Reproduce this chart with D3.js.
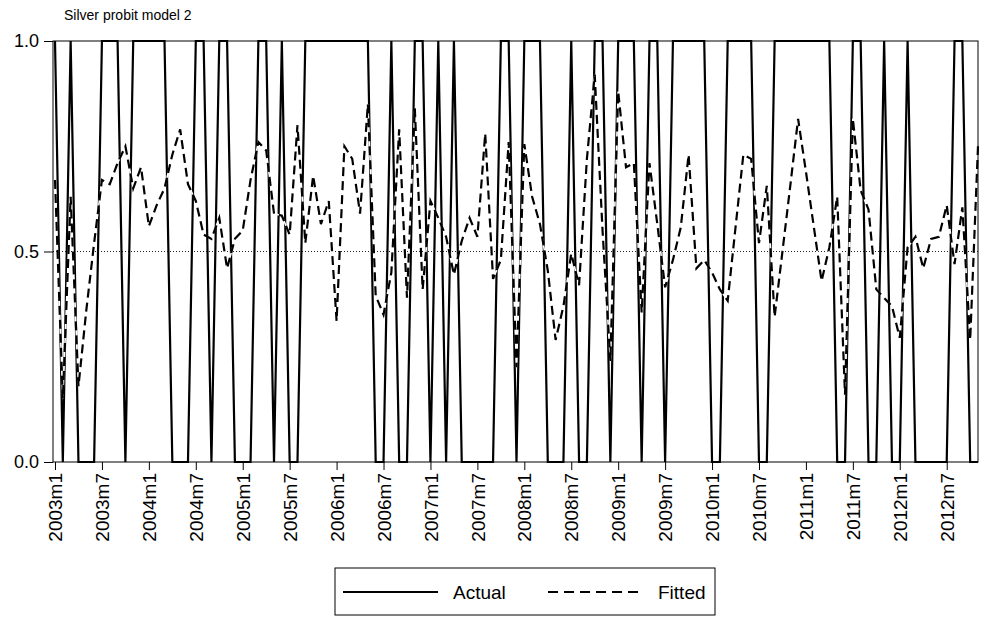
<!DOCTYPE html>
<html>
<head>
<meta charset="utf-8">
<script src="https://cdn.jsdelivr.net/npm/d3@7"></script>
<style>
  body { margin: 0; background: #fff; }
  svg { display: block; font-family: "Liberation Sans", Arial, sans-serif; }
</style>
</head>
<body>
<div id="chart"></div>
<script>
/* Silver probit model 2 - actual vs fitted */

// Data
const titleText = "Silver probit model 2";
const startYear = 2003;
const seriesNames = ["Actual", "Fitted"];
const yTicks = [0, 0.5, 1];
const tickLabels = ["2003m1", "2003m7", "2004m1", "2004m7", "2005m1", "2005m7", "2006m1", "2006m7",
  "2007m1", "2007m7", "2008m1", "2008m7", "2009m1", "2009m7", "2010m1", "2010m7",
  "2011m1", "2011m7", "2012m1", "2012m7"];

const actual = [
  1, 0, 1, 0, 0, 0, 1, 1, 1, 0,
  1, 1, 1, 1, 1, 0, 0, 0, 1, 1,
  0, 1, 1, 0, 0, 0, 1, 1, 0, 1,
  0, 0, 1, 1, 1, 1, 1, 1, 1, 1,
  1, 0, 0, 1, 0, 0, 1, 1, 0, 1,
  0, 1, 0, 0, 0, 0, 0, 1, 1, 0,
  1, 1, 1, 0, 0, 0, 1, 0, 0, 1,
  1, 0, 1, 1, 1, 0, 1, 1, 0, 1,
  1, 1, 1, 1, 0, 0, 1, 1, 1, 1,
  0, 0, 1, 1, 1, 1, 1, 1, 1, 1,
  0, 0, 1, 1, 0, 0, 1, 0, 0, 1,
  0, 0, 0, 0, 0, 1, 1, 0, 0
];

const fitted = [
  0.67, 0.15, 0.63, 0.18, 0.36, 0.52, 0.67, 0.66, 0.71, 0.75,
  0.65, 0.70, 0.56, 0.61, 0.65, 0.73, 0.79, 0.66, 0.62, 0.54,
  0.53, 0.58, 0.46, 0.53, 0.55, 0.67, 0.76, 0.74, 0.59, 0.585,
  0.54, 0.80, 0.52, 0.68, 0.565, 0.62, 0.335, 0.75, 0.72, 0.59,
  0.85, 0.395, 0.35, 0.45, 0.79, 0.39, 0.84, 0.41, 0.62, 0.58,
  0.535, 0.445, 0.525, 0.58, 0.535, 0.78, 0.435, 0.48, 0.76, 0.225,
  0.755, 0.63, 0.565, 0.455, 0.29, 0.37, 0.495, 0.42, 0.72, 0.92,
  0.55, 0.24, 0.88, 0.70, 0.71, 0.355, 0.71, 0.565, 0.415, 0.48,
  0.557, 0.73, 0.46, 0.48, 0.45, 0.41, 0.383, 0.557, 0.73, 0.72,
  0.52, 0.656, 0.345, 0.50, 0.656, 0.815, 0.69, 0.56, 0.43, 0.51,
  0.63, 0.16, 0.815, 0.645, 0.60, 0.41, 0.39, 0.37, 0.295, 0.51,
  0.535, 0.46, 0.53, 0.535, 0.61, 0.47, 0.605, 0.29, 0.75
];

// month categories 2003m1 ...
const months = actual.map((d, i) => (startYear + Math.floor(i / 12)) + "m" + (i % 12 + 1));

// Dimensions
const W = 996, H = 644;
const plot = { left: 53, right: 978, top: 41, bottom: 462 };

const svg = d3.select("#chart")
  .append("svg")
  .attr("width", W)
  .attr("height", H);

// Scales
const x = d3.scalePoint()
  .domain(months)
  .range([plot.left + 2, plot.right]);

const y = d3.scaleLinear()
  .domain([0, 1])
  .range([plot.bottom, plot.top]);

// Title
svg.append("text")
  .attr("x", 64)
  .attr("y", 20)
  .style("font-size", "14px")
  .text(titleText);

// 0.5 dotted reference line
svg.append("line")
  .attr("x1", plot.left)
  .attr("x2", plot.right)
  .attr("y1", y(0.5))
  .attr("y2", y(0.5))
  .attr("stroke", "#222")
  .attr("stroke-width", 1)
  .attr("stroke-dasharray", "1,2");

// Lines
const line = d3.line()
  .x((d, i) => x(months[i]))
  .y(d => y(d));

svg.append("path")
  .datum(actual)
  .attr("d", line)
  .attr("fill", "none")
  .attr("stroke", "#000")
  .attr("stroke-width", 2.2)
  .attr("stroke-linejoin", "miter");

// fitted: white underlay then black dashes (gaps show white like EViews)
svg.append("path")
  .datum(fitted)
  .attr("d", line)
  .attr("fill", "none")
  .attr("stroke", "#fff")
  .attr("stroke-width", 1.6);

svg.append("path")
  .datum(fitted)
  .attr("d", line)
  .attr("fill", "none")
  .attr("stroke", "#000")
  .attr("stroke-width", 2.2)
  .attr("stroke-dasharray", "9,5");

// Frame
svg.append("rect")
  .attr("x", plot.left)
  .attr("y", plot.top)
  .attr("width", plot.right - plot.left)
  .attr("height", plot.bottom - plot.top)
  .attr("fill", "none")
  .attr("stroke", "#000")
  .attr("stroke-width", 1);

// Y axis
const yAxis = svg.append("g")
  .attr("transform", "translate(" + plot.left + ",0)")
  .call(d3.axisLeft(y).tickValues(yTicks).tickFormat(d3.format(".1f")).tickSize(9).tickPadding(5));
yAxis.select(".domain").remove();
yAxis.selectAll("text")
  .style("font-size", "18px")
  .style("font-family", "Liberation Sans, Arial, sans-serif")
  .attr("fill", "#000");

// X axis
const xAxis = svg.append("g")
  .attr("transform", "translate(0," + plot.bottom + ")")
  .call(d3.axisBottom(x).tickValues(tickLabels).tickSize(8).tickPadding(4));
xAxis.select(".domain").remove();
xAxis.selectAll("text")
  .style("font-size", "19px")
  .style("font-family", "Liberation Sans, Arial, sans-serif")
  .attr("fill", "#000")
  .attr("transform", "rotate(-90)")
  .attr("text-anchor", "end")
  .attr("dy", "0.35em")
  .attr("x", -11)
  .attr("y", 0);

// Legend
const legend = svg.append("g")
  .attr("transform", "translate(335,568)");

legend.append("rect")
  .attr("width", 380)
  .attr("height", 47)
  .attr("fill", "#fff")
  .attr("stroke", "#000")
  .attr("stroke-width", 1);

const legendItems = [
  { name: seriesNames[0], x: 8, dash: null },
  { name: seriesNames[1], x: 213, dash: "10,6" }
];

legendItems.forEach(item => {
  legend.append("line")
    .attr("x1", item.x)
    .attr("x2", item.x + 95)
    .attr("y1", 24)
    .attr("y2", 24)
    .attr("stroke", "#000")
    .attr("stroke-width", 2)
    .attr("stroke-dasharray", item.dash);
  legend.append("text")
    .attr("x", item.x + 110)
    .attr("y", 31)
    .style("font-size", "19px")
    .text(item.name);
});
</script>
</body>
</html>
